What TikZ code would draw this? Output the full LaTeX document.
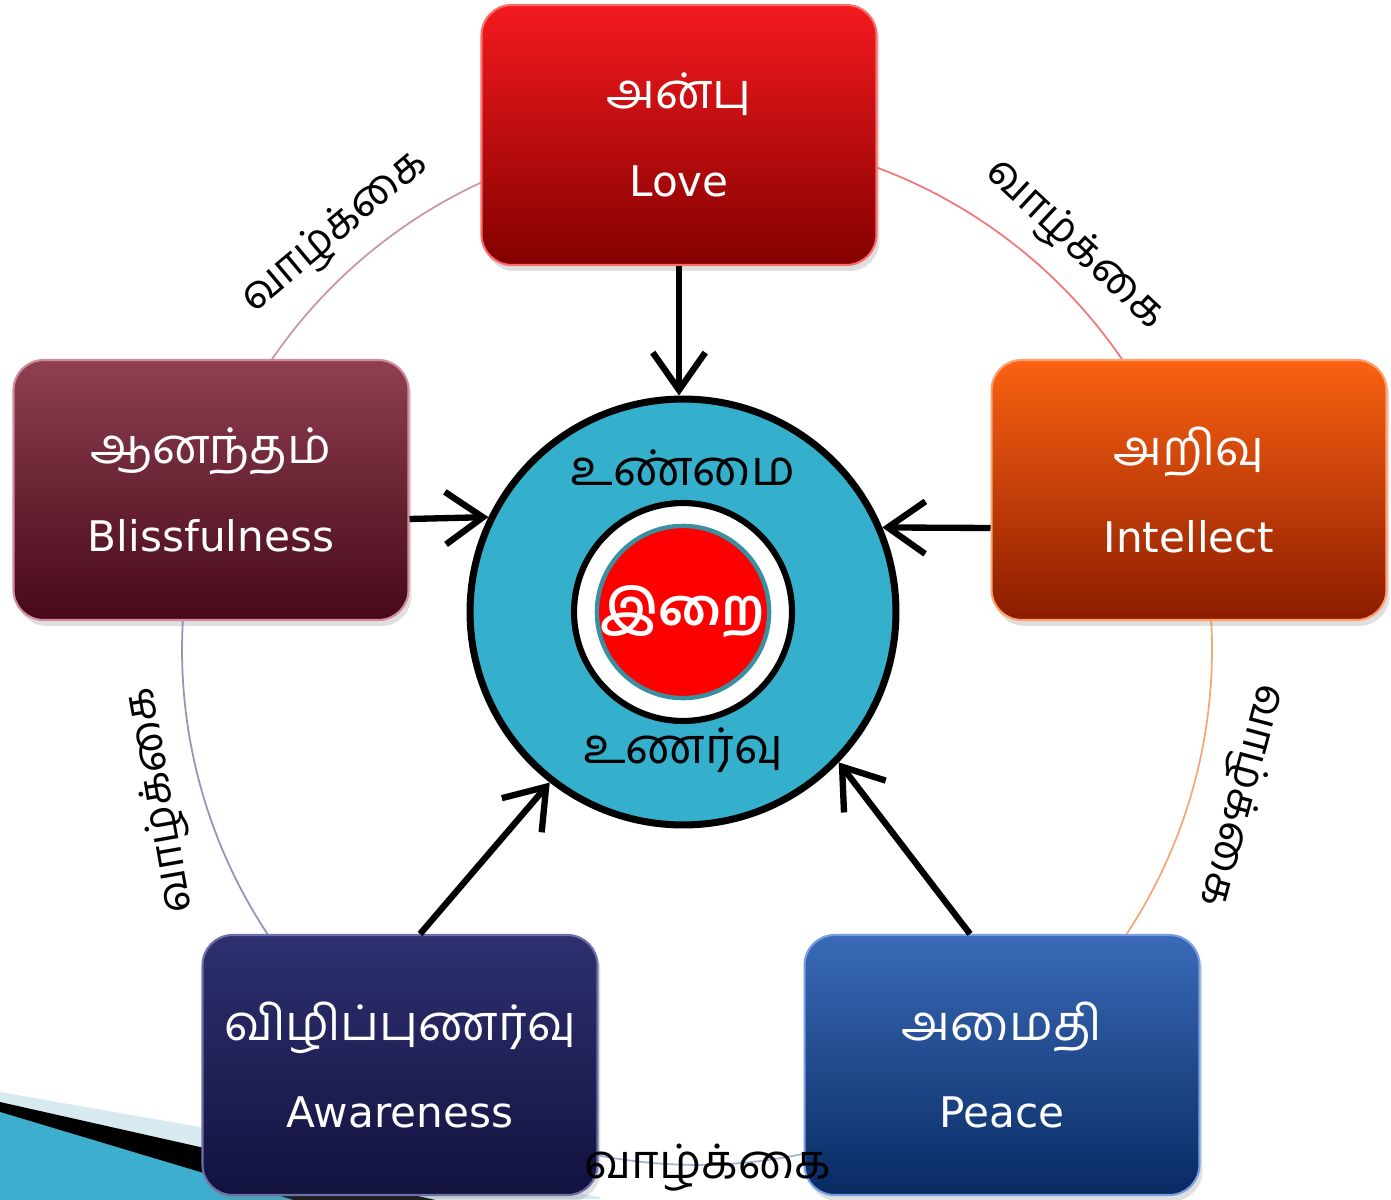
\documentclass[tikz,border=0pt]{standalone}
\usepackage{fontspec}
\setmainfont{DejaVu Sans}
\newfontfamily\tamilfont[Script=Tamil]{Hind Madurai}
\usetikzlibrary{arrows.meta,shadows,positioning}
\definecolor{ringblue}{HTML}{34B0CC}
\definecolor{tealrim}{HTML}{3A8FA0}
\definecolor{bandblue}{HTML}{D6EAF0}
\definecolor{swoosh}{HTML}{3EAECE}
\tikzset{
  valuebox/.style={rectangle, rounded corners=0.6cm, minimum width=7.9cm, minimum height=5.2cm,
    align=center, text=white, line width=1.2pt, font=\fontsize{24}{50}\selectfont,
    drop shadow={opacity=0.25, shadow xshift=0.06cm, shadow yshift=-0.12cm}},
  spoke/.style={line width=3.6pt, -{Straight Barb[length=0.75cm, width=1.05cm, line width=3.6pt]}},
  lifelabel/.style={font=\tamilfont\fontsize{25}{25}\selectfont, text=black, inner sep=0pt},
  lifearc/.style={line width=1pt}
}
\newcommand{\tam}[1]{{\tamilfont\fontsize{28}{50}\selectfont #1}}
\begin{document}
\begin{tikzpicture}[x=0.02cm, y=-0.02cm]
  \useasboundingbox (0,0) rectangle (1391,1199);

  % corner swoosh
  \begin{scope}
    \clip (0,0) rectangle (1391,1199);
    \fill[bandblue] (0,1092) -- (600,1197) -- (600,1199) -- (0,1199) -- cycle;
    \fill[black] (0,1102) -- (600,1237) -- (600,1260) -- (0,1260) -- cycle;
    \fill[swoosh] (0,1112) -- (600,1292) -- (600,1300) -- (0,1300) -- cycle;
  \end{scope}

  % life circle
  \coordinate (hub) at (697,650);
  \draw[lifearc, color={rgb,255:red,240;green,120;blue,120}] ([shift={(30:10.3cm)}]hub) arc[start angle=30, end angle=90, radius=10.3cm];
  \draw[lifearc, color={rgb,255:red,200;green,150;blue,165}] ([shift={(90:10.3cm)}]hub) arc[start angle=90, end angle=160, radius=10.3cm];
  \draw[lifearc, color={rgb,255:red,148;green,148;blue,184}] ([shift={(160:10.3cm)}]hub) arc[start angle=160, end angle=240, radius=10.3cm];
  \draw[lifearc, color={rgb,255:red,160;green,180;blue,216}] ([shift={(240:10.3cm)}]hub) arc[start angle=240, end angle=300, radius=10.3cm];
  \draw[lifearc, color={rgb,255:red,244;green,168;blue,120}] ([shift={(300:10.3cm)}]hub) arc[start angle=300, end angle=390, radius=10.3cm];

  % centre
  \node (ring) [circle, minimum size=8.52cm, fill=ringblue, draw=black, line width=4pt] at (683,612) {};
  \node (core) [circle, minimum size=4.36cm, inner sep=0pt, fill=white, draw=black, line width=3.5pt] at (ring.center) {};
  \node (god) [circle, minimum size=3.28cm, inner sep=0pt, fill=red, draw=tealrim, line width=2.5pt, text=white,
    font=\tamilfont\bfseries\fontsize{29}{29}\selectfont] at (ring.center) {இறை};
  \node (truth) [font=\tamilfont\fontsize{28}{28}\selectfont] at (683,468) {உண்மை};
  \node (feeling) [font=\tamilfont\fontsize{28}{28}\selectfont] at (683,750) {உணர்வு};

  % values
  \node (love) [valuebox, top color={rgb,255:red,244;green,26;blue,30}, bottom color={rgb,255:red,132;green,0;blue,0}, draw={rgb,255:red,250;green,110;blue,110}] at (679,135) {\tam{அன்பு}\\Love};
  \node (intellect) [valuebox, top color={rgb,255:red,251;green,98;blue,18}, bottom color={rgb,255:red,140;green,28;blue,0}, draw={rgb,255:red,255;green,160;blue,110}] at (1189,490) {\tam{அறிவு}\\Intellect};
  \node (bliss) [valuebox, top color={rgb,255:red,142;green,64;blue,80}, bottom color={rgb,255:red,70;green,8;blue,24}, draw={rgb,255:red,210;green,140;blue,155}] at (211,490) {\tam{ஆனந்தம்}\\Blissfulness};
  \node (aware) [valuebox, top color={rgb,255:red,46;green,48;blue,112}, bottom color={rgb,255:red,18;green,18;blue,62}, draw={rgb,255:red,110;green,112;blue,170}] at (400,1065) {\tam{விழிப்புணர்வு}\\Awareness};
  \node (peace) [valuebox, top color={rgb,255:red,58;green,106;blue,184}, bottom color={rgb,255:red,8;green,42;blue,98}, draw={rgb,255:red,120;green,160;blue,225}] at (1002,1065) {\tam{அமைதி}\\Peace};

  % spokes
  \draw[spoke] (love.south) -- (love.south |- ring.north);
  \draw[spoke] ([yshift=-0.58cm]bliss.east) -- (ring.154);
  \draw[spoke] ([yshift=-0.76cm]intellect.west) -- (ring.23);
  \draw[spoke] ([xshift=0.4cm]aware.north) -- (ring.232);
  \draw[spoke] ([xshift=-0.64cm]peace.north) -- (ring.316);

  % life labels
  \node (lifeUL) [lifelabel, rotate=40] at (335,232) {வாழ்க்கை};
  \node (lifeUR) [lifelabel, rotate=-43] at (1075,245) {வாழ்க்கை};
  \node (lifeL) [lifelabel, rotate=100] at (162,800) {வாழ்க்கை};
  \node (lifeR) [lifelabel, rotate=-105] at (1240,795) {வாழ்க்கை};
  \node (lifeB) [lifelabel, font=\tamilfont\fontsize{27}{27}\selectfont] at (708,1168) {வாழ்க்கை};
\end{tikzpicture}
\end{document}
